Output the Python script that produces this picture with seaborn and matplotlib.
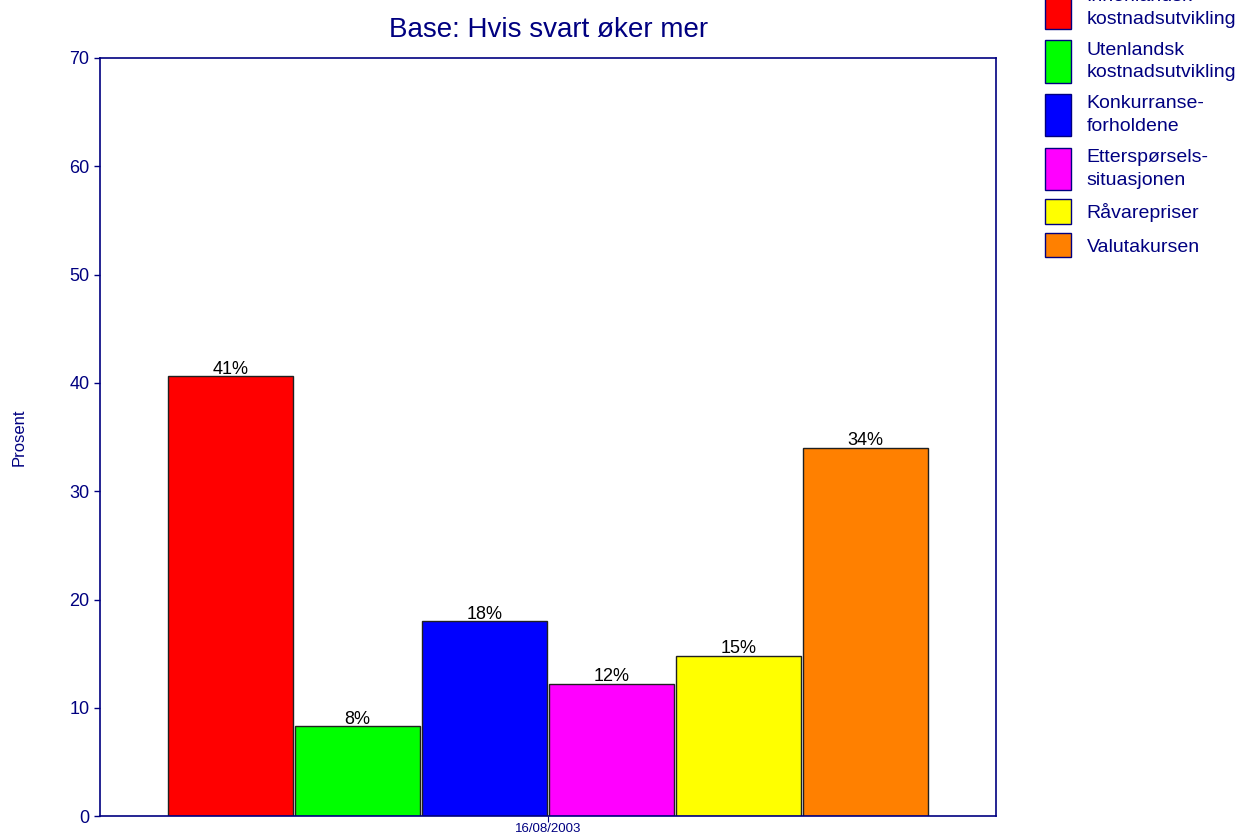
import matplotlib.pyplot as plt
from matplotlib.legend_handler import HandlerPatch
from matplotlib.patches import Patch, Rectangle
import pandas as pd
import seaborn as sns

date_label = "16/08/2003"
factors = [
    "Innenlandsk\nkostnadsutvikling",
    "Utenlandsk\nkostnadsutvikling",
    "Konkurranse-\nforholdene",
    "Etterspørsels-\nsituasjonen",
    "Råvarepriser",
    "Valutakursen",
]
percent = [40.6, 8.3, 18.0, 12.2, 14.8, 34.0]
colors = ["#FF0000", "#00FF00", "#0000FF", "#FF00FF", "#FFFF00", "#FF8000"]

NAVY = "#000080"


def tall_patch(legend, orig_handle, xdescent, ydescent, width, height, fontsize):
  # two-line labels get a taller box
  h = height * (2.43 if orig_handle.get_label().count("\n") else 1.41)
  return Rectangle((-xdescent, -ydescent + (height - h) / 2), width, h)


def main():
  sns.set_style("white")
  plt.rcParams["font.family"] = ["Liberation Sans", "DejaVu Sans"]

  df = pd.DataFrame({"date": date_label, "factor": factors, "percent": percent})

  fig = plt.figure(figsize=(12.39, 8.38), dpi=100)
  ax = fig.add_axes([0.0807, 0.026, 0.7233, 0.905])

  sns.barplot(data=df, x="date", y="percent", hue="factor", hue_order=factors,
              palette=colors, saturation=1, width=0.85, gap=0.02,
              edgecolor="#202020", linewidth=1, legend=False, ax=ax)

  for c in ax.containers:
    ax.bar_label(c, labels=[f"{v:.0f}%" for v in c.datavalues],
                 fontsize=13, color="black", padding=-1)

  ax.set_ylim(0, 70)
  ax.set_xlim(-0.5, 0.5)
  ax.set_yticks(range(0, 71, 10))
  ax.set_xlabel("")
  ax.set_ylabel("Prosent", color=NAVY, fontsize=12, labelpad=31)
  ax.set_title("Base: Hvis svart øker mer", color=NAVY, fontsize=20, pad=15)
  ax.tick_params(axis="y", colors=NAVY, labelsize=13, length=4, left=True, width=1)
  ax.tick_params(axis="x", colors=NAVY, labelsize=9.5, length=4, bottom=True, pad=1)
  for s in ax.spines.values():
    s.set_color(NAVY)
    s.set_linewidth(1.2)

  handles = [Patch(facecolor=col, edgecolor=NAVY, label=lab)
             for col, lab in zip(colors, factors)]
  leg = fig.legend(handles=handles, loc="upper left", bbox_to_anchor=(0.829, 1.035),
                   frameon=False, fontsize=14, labelcolor=NAVY, handlelength=1.34,
                   handleheight=1.0, handletextpad=0.82, labelspacing=0.73,
                   handler_map={Patch: HandlerPatch(patch_func=tall_patch)})
  for t in leg.get_texts():
    t.set_linespacing(1.42)

  fig.savefig("out.png", dpi=100)


if __name__ == "__main__":
  main()
